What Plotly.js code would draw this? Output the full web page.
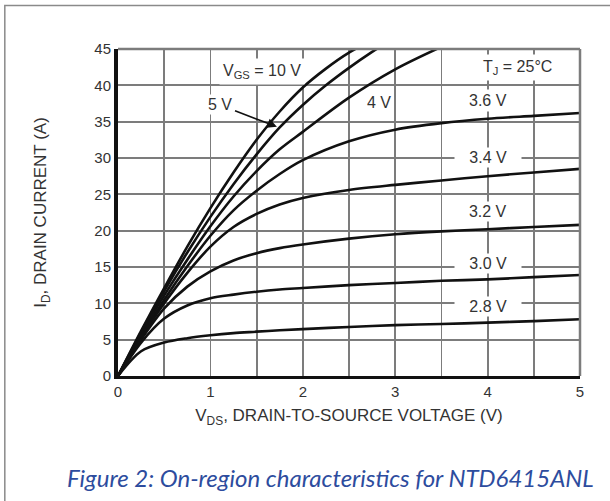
<!DOCTYPE html>
<html>
<head>
<meta charset="utf-8">
<script src="https://cdn.plot.ly/plotly-3.0.1.min.js"></script>
<style>html,body{margin:0;padding:0;background:#fff;}#chart{width:610px;height:501px;}</style>
</head>
<body>
<div id="chart"></div>
<script>
// ---- data ----
var vdsGrid = [0, 0.25, 0.5, 0.75, 1, 1.25, 1.5, 1.75, 2, 2.5, 3, 3.5, 4, 4.5, 5];

var vgs10X = [0, 0.25, 0.5, 0.75, 1, 1.25, 1.5, 1.75, 2, 2.25, 2.5, 2.75];
var vgs10Y = [0, 6.2, 12.1, 17.8, 23.1, 28.0, 32.5, 36.4, 39.7, 42.3, 44.5, 46.2];

var vgs5X = [0, 0.25, 0.5, 0.75, 1, 1.25, 1.5, 1.75, 2, 2.25, 2.5, 2.75, 3];
var vgs5Y = [0, 6.0, 11.7, 17.0, 21.9, 26.4, 30.5, 34.2, 37.3, 40.0, 42.4, 44.6, 46.6];

var vgs4X = [0, 0.25, 0.5, 0.75, 1, 1.25, 1.5, 1.75, 2, 2.5, 3, 3.5];
var vgs4Y = [0, 5.8, 11.1, 16.0, 20.6, 24.7, 28.2, 31.2, 33.6, 38.3, 42.2, 45.3];

var vgs36Y = [0, 5.5, 10.5, 15.1, 19.3, 22.8, 25.5, 27.8, 29.7, 32.3, 33.9, 34.8, 35.4, 35.8, 36.2];
var vgs34Y = [0, 5.3, 10.0, 14.2, 17.8, 20.5, 22.3, 23.6, 24.5, 25.6, 26.3, 26.9, 27.5, 28.0, 28.5];
var vgs32Y = [0, 5.0, 9.3, 12.3, 14.4, 15.9, 16.9, 17.6, 18.1, 18.9, 19.5, 19.9, 20.2, 20.5, 20.8];
var vgs30Y = [0, 4.6, 7.9, 9.7, 10.7, 11.2, 11.6, 11.9, 12.1, 12.5, 12.8, 13.1, 13.3, 13.6, 13.9];
var vgs28Y = [0, 3.4, 4.6, 5.2, 5.6, 5.9, 6.1, 6.3, 6.45, 6.75, 7.0, 7.15, 7.35, 7.55, 7.8];

var xTickVals = [0, 1, 2, 3, 4, 5];
var yTickVals = [0, 5, 10, 15, 20, 25, 30, 35, 40, 45];

var curveLabels = ['V<sub>GS</sub> = 10 V', '5 V', '4 V', '3.6 V', '3.4 V', '3.2 V', '3.0 V', '2.8 V', 'T<sub>J</sub> = 25°C'];

// ---- traces ----
var lineStyle = {color: '#111111', width: 2.6, shape: 'spline', smoothing: 0.9};
function tr(x, y) {
  return {x: x, y: y, type: 'scatter', mode: 'lines', line: lineStyle, hoverinfo: 'skip', showlegend: false};
}
var data = [
  tr(vgs10X, vgs10Y), tr(vgs5X, vgs5Y), tr(vgs4X, vgs4Y),
  tr(vdsGrid, vgs36Y), tr(vdsGrid, vgs34Y), tr(vdsGrid, vgs32Y),
  tr(vdsGrid, vgs30Y), tr(vdsGrid, vgs28Y)
];

var F = 'Liberation Sans, Arial, Helvetica, sans-serif';
var labelFont = {family: F, size: 16, color: '#333333'};
var NB = '\u00a0';
function lab(text, x, y, pad) {
  return {x: x, y: y, xref: 'x', yref: 'y', text: text, showarrow: false,
          font: labelFont, bgcolor: '#ffffff', borderpad: pad || 2, xanchor: 'center', yanchor: 'middle'};
}

var annotations = [
  lab(curveLabels[0], 1.56, 41.9, 3),
  {x: 1.72, y: 34.3, xref: 'x', yref: 'y', ax: 1.1, ay: 37.3, axref: 'x', ayref: 'y',
   text: curveLabels[1], showarrow: true, arrowhead: 2, arrowsize: 1.2, arrowwidth: 1.6, arrowcolor: '#111',
   font: labelFont, bgcolor: '#ffffff', borderpad: 1, standoff: 0, startstandoff: 2},
  lab(curveLabels[2], 2.83, 37.6, 2),
  lab(curveLabels[3], 4.0, 37.9, 2),
  lab(NB + NB + NB + curveLabels[4] + NB + NB + NB, 4.0, 30.1, 1),
  lab(NB + NB + curveLabels[5] + NB + NB, 4.0, 22.6, 1),
  lab(NB + NB + NB + curveLabels[6] + NB + NB + NB, 4.0, 15.5, 1),
  lab(NB + NB + NB + curveLabels[7] + NB + NB + NB, 4.0, 9.6, 1),
  lab(curveLabels[8], 4.32, 42.5, 3),
  // caption
  {x: 0.459, y: -0.31, xref: 'paper', yref: 'paper', showarrow: false,
   text: 'Figure 2: On-region characteristics for NTD6415ANL',
   font: {family: 'Lato, Open Sans, sans-serif', size: 24, color: '#2d4c9e', style: 'italic'},
   xanchor: 'center', yanchor: 'middle'}
];

var gridColor = '#7c7c7c';
var layout = {
  width: 610, height: 501,
  margin: {l: 118, r: 30, t: 49, b: 125, pad: 0},
  paper_bgcolor: '#ffffff', plot_bgcolor: '#ffffff',
  showlegend: false,
  xaxis: {
    range: [0, 5], tickvals: xTickVals, ticktext: xTickVals.map(String),
    showgrid: true, gridcolor: gridColor, gridwidth: 1.8,
    minor: {dtick: 0.5, tick0: 0, showgrid: true, gridcolor: gridColor, gridwidth: 1.8, ticks: ''},
    zeroline: false, showline: true, linecolor: '#111111', linewidth: 3,
    ticks: '', tickfont: {family: F, size: 15, color: '#333'},
    title: {text: 'V<sub>DS</sub>, DRAIN-TO-SOURCE VOLTAGE (V)', font: {family: F, size: 17, color: '#333'}, standoff: 11},
    fixedrange: true
  },
  yaxis: {
    range: [0, 45], tickvals: yTickVals, ticktext: yTickVals.map(String),
    showgrid: true, gridcolor: gridColor, gridwidth: 1.8,
    zeroline: false, showline: true, linecolor: '#111111', linewidth: 4,
    ticks: '', tickfont: {family: F, size: 15, color: '#333'},
    title: {text: 'I<sub>D</sub>, DRAIN CURRENT (A)', font: {family: F, size: 17, color: '#333'}, standoff: 44},
    fixedrange: true
  },
  annotations: annotations,
  shapes: [
    {type: 'line', xref: 'paper', yref: 'paper', x0: 0, x1: 1, y0: 1, y1: 1, line: {color: '#7c7c7c', width: 2.5}},
    {type: 'line', xref: 'paper', yref: 'paper', x0: 1, x1: 1, y0: 0, y1: 1, line: {color: '#7c7c7c', width: 2.5}},
    {type: 'rect', xref: 'paper', yref: 'paper', x0: -0.245, x1: 1.2, y0: -0.5, y1: 1.133, line: {color: '#8a8a8a', width: 1.5}, layer: 'below'}
  ]
};

Plotly.newPlot('chart', data, layout, {staticPlot: true, displayModeBar: false});
</script>
</body>
</html>
